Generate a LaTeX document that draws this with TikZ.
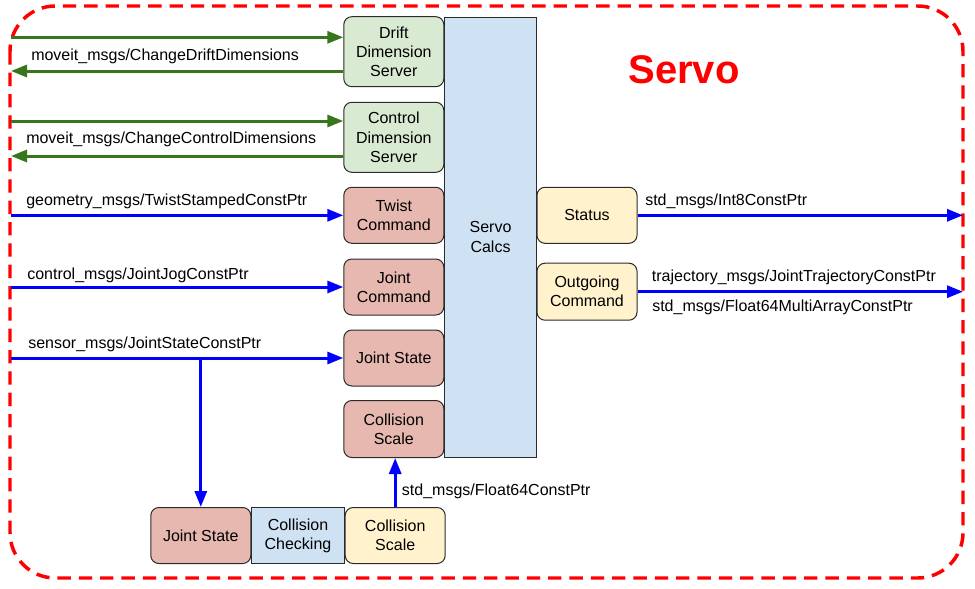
\documentclass[tikz,border=0pt]{standalone}
\usepackage{fontspec}
\setmainfont{Liberation Sans}
\usepackage{tikz}
\usetikzlibrary{arrows.meta, positioning}
\definecolor{srvgreen}{HTML}{D9EAD3}
\definecolor{srvred}{HTML}{E6B8AF}
\definecolor{srvblue}{HTML}{CFE2F3}
\definecolor{srvyellow}{HTML}{FFF2CC}
\definecolor{boxborder}{HTML}{2B2B2B}
\definecolor{arrgreen}{HTML}{38761D}
\definecolor{arrblue}{HTML}{0000FF}
\definecolor{frame}{HTML}{FF0000}

\begin{document}
\begin{tikzpicture}[
        x=0.75pt, y=-0.75pt,
        node distance = 0pt and 0pt,
        box/.style = {draw=boxborder, rectangle, rounded corners=6pt, minimum width=75pt, minimum height=42pt, align=center, font=\fontsize{12}{14.3}\selectfont, line width=0.75pt, inner sep=2pt},
        dimsrv/.style = {box, fill=srvgreen, minimum height=52.5pt},
        incmd/.style = {box, fill=srvred},
        outcmd/.style = {box, fill=srvyellow},
        calc/.style = {box, rounded corners=0pt, fill=srvblue},
        lbl/.style = {font=\fontsize{12}{14}\selectfont, anchor=base west, inner sep=0pt},
        garrow/.style = {draw=arrgreen, -{Triangle[length=12pt, width=9pt]}, line width=2.25pt},
        barrow/.style = {draw=arrblue, -{Triangle[length=12pt, width=9pt]}, line width=2.25pt}
    ]
        \useasboundingbox (0,0) rectangle (975,589);

        % Rahmen
        \draw[frame, line width=2.6pt, dash pattern=on 10pt off 6pt, rounded corners=34pt] (10,6) rectangle (963,578);
        \node (title) [font=\fontsize{30}{36}\selectfont\bfseries, text=frame] at (684,70) {Servo};

        \node (calcs) [calc, minimum width=69pt, minimum height=330pt] at (490.5,237) {Servo\\Calcs};

        \node (drift) [dimsrv] at (393.8,51.7) {Drift\\Dimension\\Server};
        \node (control) [dimsrv] at (393.8,137.3) {Control\\Dimension\\Server};
        \node (twist) [incmd] at (393.8,215.3) {Twist\\Command};
        \node (jointcmd) [incmd] at (393.8,287) {Joint\\Command};
        \node (jointstate) [incmd] at (393.8,358) {Joint State};
        \node (collscale) [incmd, minimum height=42.75pt] at (393.8,429) {Collision\\Scale};

        \node (status) [outcmd] at (587,215.3) {Status};
        \node (outgoing) [outcmd, minimum height=42.75pt] at (587,291.7) {Outgoing\\Command};

        \node (jsbot) [incmd] at (200.8,535.5) {Joint State};
        \node (checking) [calc, right=of jsbot, minimum width=69.3pt] {Collision\\Checking};
        \node (scalebot) [outcmd, right=of checking] {Collision\\Scale};

        \coordinate (edgeL) at (11,0);
        \coordinate (edgeR) at (963,0);
        \coordinate (driftIn) at (11,37.3);
        \coordinate (driftOut) at (11,71);
        \coordinate (controlIn) at (11,121);
        \coordinate (controlOut) at (11,156);

        \draw [garrow] (driftIn) -- (driftIn -| drift.west);
        \draw [garrow] (driftOut -| drift.west) -- (driftOut);
        \draw [garrow] (controlIn) -- (controlIn -| control.west);
        \draw [garrow] (controlOut -| control.west) -- (controlOut);

        \draw [barrow] (edgeL |- twist.west) -- (twist.west);
        \draw [barrow] (edgeL |- jointcmd.west) -- (jointcmd.west);
        \draw [barrow] (edgeL |- jointstate.west) -- (jointstate.west);
        \draw [barrow] (jsbot.north |- jointstate.west) -- (jsbot.north);
        \draw [barrow] (scalebot.north) -- (scalebot.north |- collscale.south);

        \draw [barrow] (status.east) -- (status.east -| edgeR);
        \draw [barrow] (outgoing.east) -- (outgoing.east -| edgeR);

        % Beschriftungen
        \node (lDrift) [lbl] at (31,60.5) {moveit\_msgs/ChangeDriftDimensions};
        \node (lControl) [lbl] at (26,143.5) {moveit\_msgs/ChangeControlDimensions};
        \node (lTwist) [lbl] at (26,205.5) {geometry\_msgs/TwistStampedConstPtr};
        \node (lJog) [lbl] at (27,279.3) {control\_msgs/JointJogConstPtr};
        \node (lState) [lbl] at (28,348) {sensor\_msgs/JointStateConstPtr};
        \node (lScale) [lbl] at (401.7,495) {std\_msgs/Float64ConstPtr};
        \node (lStatus) [lbl] at (645,205) {std\_msgs/Int8ConstPtr};
        \node (lTraj) [lbl] at (651.7,281.7) {trajectory\_msgs/JointTrajectoryConstPtr};
        \node (lMulti) [lbl] at (652,311.7) {std\_msgs/Float64MultiArrayConstPtr};

    \end{tikzpicture}
\end{document}
